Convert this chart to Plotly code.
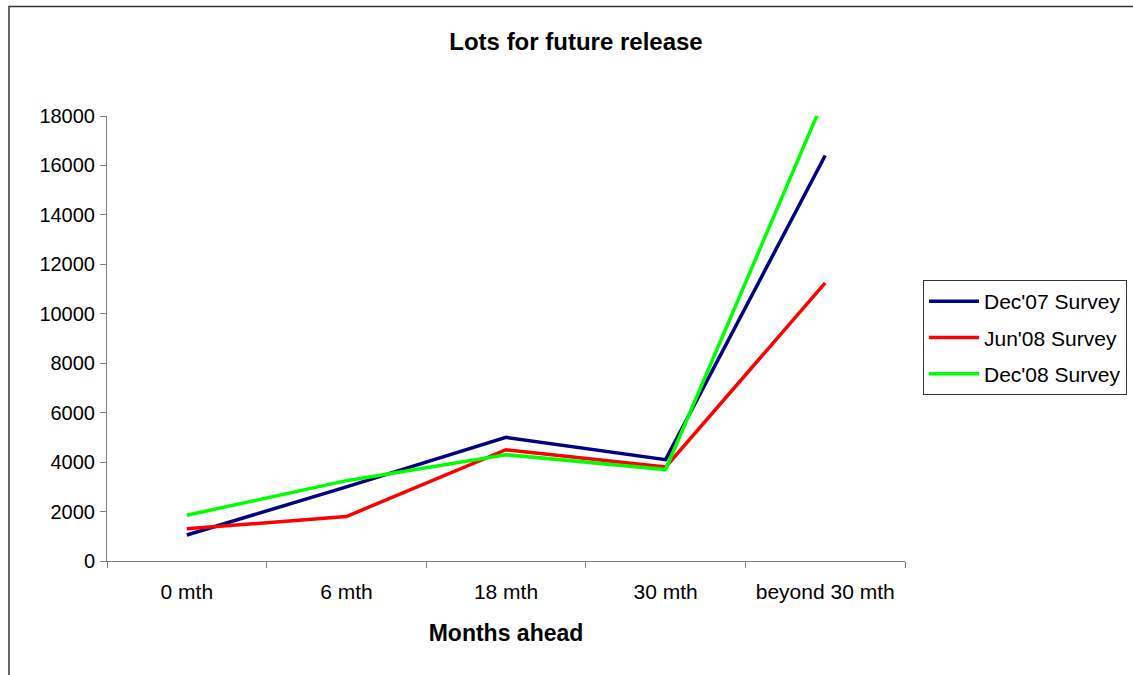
import plotly.graph_objects as go

categories = ["0 mth", "6 mth", "18 mth", "30 mth", "beyond 30 mth"]
dec07 = [1050, 3000, 5000, 4100, 16400]
jun08 = [1300, 1800, 4500, 3800, 11250]
dec08 = [1850, 3250, 4300, 3700, 18800]
series_names = ["Dec'07 Survey", "Jun'08 Survey", "Dec'08 Survey"]
colors = ["#000080", "#FF0000", "#00FF00"]
y_ticks = [0, 2000, 4000, 6000, 8000, 10000, 12000, 14000, 16000, 18000]

W, H = 1133, 675
L, R, T, B = 107, 905, 116, 561

fig = go.Figure()
for i, (name, vals, c) in enumerate(zip(series_names, [dec07, jun08, dec08], colors)):
    fig.add_trace(go.Scatter(x=categories, y=vals, mode="lines", name=name,
                             legendgroup=f"g{i}",
                             line=dict(color=c, width=3.5)))

font = "Liberation Sans, Arial, sans-serif"

def px_x(p):
    return (p - L) / (R - L)

def px_y(p):
    return (B - p) / (B - T)

fig.update_layout(
    width=W, height=H,
    margin=dict(l=L, r=W - R, t=T, b=H - B, autoexpand=False),
    paper_bgcolor="white", plot_bgcolor="white",
    font=dict(family=font, size=20, color="black"),
    title=dict(text="<b>Lots for future release</b>", x=576 / W, xanchor="center",
               y=1 - 42 / H, yanchor="middle", font=dict(size=24)),
    showlegend=True,
    legend=dict(x=px_x(923), y=px_y(280), xanchor="left", yanchor="top",
                bordercolor="#333333", borderwidth=1, bgcolor="white",
                font=dict(size=21), itemwidth=50, tracegroupgap=6,
                traceorder="grouped"),
    xaxis=dict(type="category", showline=True, linecolor="#808080", linewidth=1,
               ticks="outside", tickson="boundaries", ticklen=6, tickcolor="#808080",
               showgrid=False, zeroline=False, range=[-0.5, 4.5],
               tickfont=dict(size=21),
               title=dict(text="<b>Months ahead</b>", font=dict(size=23), standoff=22),
               ticklabelstandoff=12),
    yaxis=dict(range=[0, 18000], tickvals=y_ticks, showline=True, linecolor="#808080",
               linewidth=1, ticks="outside", ticklen=6, tickcolor="#808080",
               showgrid=False, zeroline=False, tickformat="d", ticklabelstandoff=1,
               tickfont=dict(size=20)),
    shapes=[dict(type="rect", xref="paper", yref="paper",
                 x0=px_x(9), x1=px_x(1145), y0=px_y(690), y1=px_y(6.5),
                 line=dict(color="#333333", width=1.5), layer="below")],
)

fig.write_html("out.html", config={"displayModeBar": False},
               post_script="document.body.style.margin='0';")
